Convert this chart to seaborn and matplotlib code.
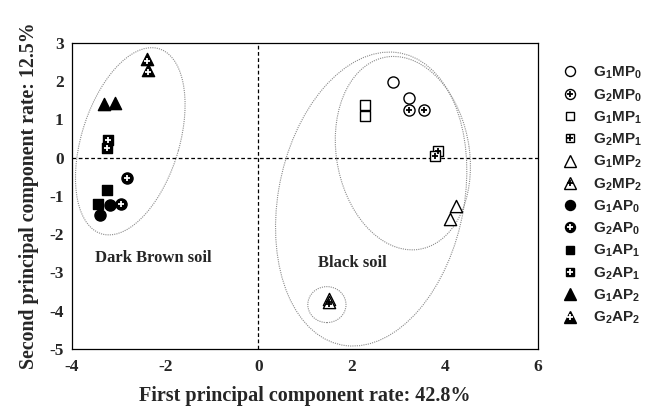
import matplotlib
matplotlib.use("Agg")
import matplotlib.pyplot as plt
import seaborn as sns
import pandas as pd
from matplotlib.patches import Ellipse
from matplotlib.lines import Line2D
from matplotlib.legend_handler import HandlerTuple

# ---- data ----
groups = ["G1MP0", "G2MP0", "G1MP1", "G2MP1", "G1MP2", "G2MP2",
          "G1AP0", "G2AP0", "G1AP1", "G2AP1", "G1AP2", "G2AP2"]
labels = [r"G$_\mathbf{1}$MP$_\mathbf{0}$", r"G$_\mathbf{2}$MP$_\mathbf{0}$",
          r"G$_\mathbf{1}$MP$_\mathbf{1}$", r"G$_\mathbf{2}$MP$_\mathbf{1}$",
          r"G$_\mathbf{1}$MP$_\mathbf{2}$", r"G$_\mathbf{2}$MP$_\mathbf{2}$",
          r"G$_\mathbf{1}$AP$_\mathbf{0}$", r"G$_\mathbf{2}$AP$_\mathbf{0}$",
          r"G$_\mathbf{1}$AP$_\mathbf{1}$", r"G$_\mathbf{2}$AP$_\mathbf{1}$",
          r"G$_\mathbf{1}$AP$_\mathbf{2}$", r"G$_\mathbf{2}$AP$_\mathbf{2}$"]
pc1 = {
    "G1MP0": [2.88, 3.24], "G2MP0": [3.24, 3.56], "G1MP1": [2.28, 2.28],
    "G2MP1": [3.85, 3.78], "G1MP2": [4.24, 4.11], "G2MP2": [1.52, 1.51],
    "G1AP0": [-3.19, -3.39], "G2AP0": [-2.82, -2.95], "G1AP1": [-3.26, -3.45],
    "G2AP1": [-3.23, -3.26], "G1AP2": [-3.32, -3.08], "G2AP2": [-2.39, -2.37],
}
pc2 = {
    "G1MP0": [1.98, 1.55], "G2MP0": [1.24, 1.24], "G1MP1": [1.37, 1.08],
    "G2MP1": [0.17, 0.04], "G1MP2": [-1.27, -1.59], "G2MP2": [-3.70, -3.76],
    "G1AP0": [-1.23, -1.49], "G2AP0": [-0.53, -1.21], "G1AP1": [-0.84, -1.20],
    "G2AP1": [0.47, 0.25], "G1AP2": [1.41, 1.43], "G2AP2": [2.58, 2.30],
}
xticks = [-4, -2, 0, 2, 4, 6]
yticks = [-5, -4, -3, -2, -1, 0, 1, 2, 3]

rows = []
for g in groups:
    for xv, yv in zip(pc1[g], pc2[g]):
        rows.append({"group": g, "pc1": xv, "pc2": yv})
df = pd.DataFrame(rows)

# ---- styles ----
shape = {"0": "o", "1": "s", "2": "^"}
msize = {"o": 8.0, "s": 6.8, "^": 8.8}

sns.set_style("white")
plt.rcParams["font.family"] = ["Liberation Serif", "DejaVu Serif"]
plt.rcParams["mathtext.fontset"] = "custom"
plt.rcParams["mathtext.rm"] = "Liberation Sans:bold"
plt.rcParams["mathtext.bf"] = "Liberation Sans:bold"
plt.rcParams["mathtext.it"] = "Liberation Sans:bold"

fig = plt.figure(figsize=(6.46, 4.13), dpi=100)
ax = fig.add_axes([0.1115, 0.155, 0.7213, 0.7409])

ax.axvline(0, color="black", lw=0.9, ls=(0, (3, 2)), zorder=1)
ax.axhline(0, color="black", lw=0.9, ls=(0, (3, 2)), zorder=1)

ell_kw = dict(fill=False, edgecolor="#8a8a8a", lw=0.8, ls=(0, (1, 1)), zorder=1)
ax.add_patch(Ellipse((-2.75, 0.43), 5.0, 2.12, angle=77, **ell_kw))
ax.add_patch(Ellipse((2.42, -1.08), 7.74, 4.0, angle=82, **ell_kw))
ax.add_patch(Ellipse((3.1, 0.12), 5.08, 2.86, angle=96.6, **ell_kw))
ax.add_patch(Ellipse((1.47, -3.84), 0.82, 0.94, angle=0, **ell_kw))

handles = []
for g in groups:
    m = shape[g[-1]]
    filled = g[2] == "A"
    plus = g[1] == "2"
    sub = df[df.group == g]
    ms = msize[m]
    fc = "black" if filled else "white"
    sns.scatterplot(data=sub, x="pc1", y="pc2", ax=ax, marker=m, s=ms ** 2,
                    facecolor=fc, edgecolor="black", linewidth=1.0,
                    legend=False, zorder=3)
    h_base = Line2D([], [], ls="", marker=m, markersize=ms * 0.9,
                    markerfacecolor=fc, markeredgecolor="black",
                    markeredgewidth=1.0)
    if plus:
        pc = "white" if filled else "black"
        py = sub["pc2"] - (0.06 if m == "^" else 0.0)
        sns.scatterplot(x=sub["pc1"], y=py, ax=ax, marker="+", s=20,
                        color=pc, linewidth=1.3, legend=False, zorder=4)
        h_plus = Line2D([], [], ls="", marker="+", markersize=4.2,
                        markeredgecolor=pc, markeredgewidth=1.3)
        handles.append((h_base, h_plus))
    else:
        handles.append(h_base)

ax.text(-2.26, -2.62, "Dark Brown soil", fontsize=12, fontweight="bold",
        ha="center", va="center")
ax.text(2.01, -2.74, "Black soil", fontsize=12, fontweight="bold",
        ha="center", va="center")

ax.set_xlim(-4, 6)
ax.set_ylim(-5, 3)
ax.set_xticks(xticks)
ax.set_yticks(yticks)
ax.set_xticklabels([str(t) for t in xticks])
ax.set_yticklabels([str(t) for t in yticks])
ax.tick_params(axis="both", direction="in", length=4, width=0.8,
               labelsize=12.5, color="black")
ax.tick_params(axis="x", pad=7)
ax.tick_params(axis="y", pad=6)
for lab in ax.get_xticklabels() + ax.get_yticklabels():
    lab.set_fontweight("bold")
for sp in ax.spines.values():
    sp.set_color("black")
    sp.set_linewidth(0.9)

ax.set_xlabel("First principal component rate: 42.8%", fontsize=14.5,
              fontweight="bold", labelpad=8)
ax.set_ylabel("Second principal component rate: 12.5%", fontsize=14.3,
              fontweight="bold", labelpad=7)

fig.legend(handles, labels, loc="upper left", bbox_to_anchor=(0.868, 0.843),
           frameon=False, handlelength=1.2, handletextpad=0.92,
           labelspacing=0.385, borderpad=0, borderaxespad=0,
           prop={"family": "Liberation Sans", "weight": "bold", "size": 11},
           handler_map={tuple: HandlerTuple(ndivide=1, pad=0)})

fig.savefig("out.png", dpi=100)
